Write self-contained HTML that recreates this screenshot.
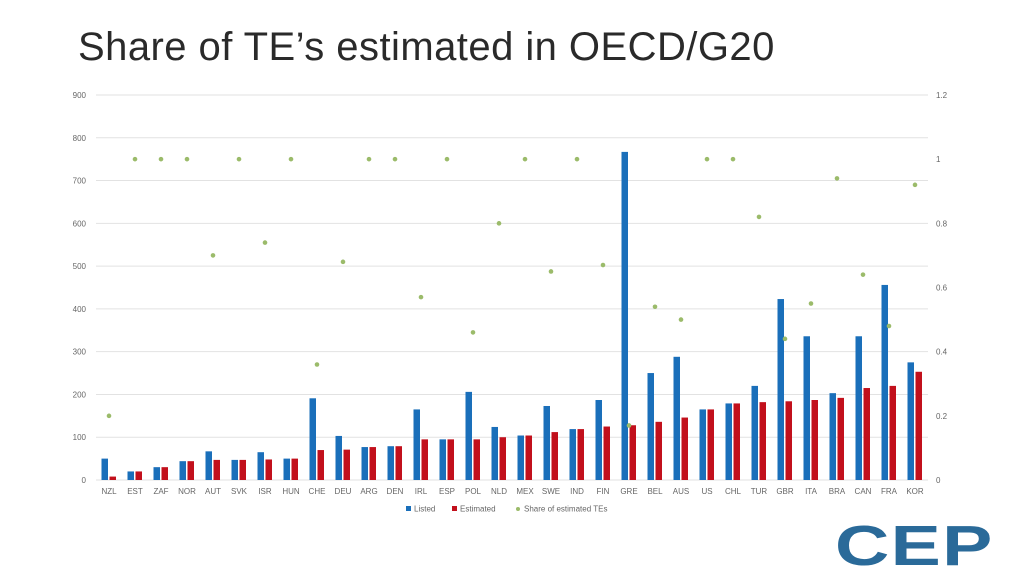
<!DOCTYPE html>
<html><head><meta charset="utf-8"><style>
body{margin:0;width:1024px;height:576px;background:#fff;overflow:hidden;font-family:"Liberation Sans",sans-serif;position:relative}
#title{position:absolute;left:78px;top:25px;font-size:40px;color:#2a2a2a;font-weight:normal;letter-spacing:0.45px}
#logo{position:absolute;left:835px;top:518px;font-size:57px;font-weight:bold;color:#2a6a99;transform:scaleX(1.32);transform-origin:left top;letter-spacing:1px;line-height:57px}
</style></head><body>
<div id="title">Share of TE’s estimated in OECD/G20</div>
<div id="logo">CEP</div>
<svg id="chart" width="1024" height="576" style="position:absolute;left:0;top:0"></svg>
<script>
const categories=["NZL","EST","ZAF","NOR","AUT","SVK","ISR","HUN","CHE","DEU","ARG","DEN","IRL","ESP","POL","NLD","MEX","SWE","IND","FIN","GRE","BEL","AUS","US","CHL","TUR","GBR","ITA","BRA","CAN","FRA","KOR"];
const listed=[50,20,30,44,67,47,65,50,191,103,77,79,165,95,206,124,104,173,119,187,767,250,288,165,179,220,423,336,203,336,456,275];
const estimated=[8,20,30,44,47,47,48,50,70,71,77,79,95,95,95,100,104,112,119,125,128,136,146,165,179,182,184,187,192,215,220,253];
const share=[0.2,1,1,1,0.7,1,0.74,1,0.36,0.68,1,1,0.57,1,0.46,0.8,1,0.65,1,0.67,0.17,0.54,0.5,1,1,0.82,0.44,0.55,0.94,0.64,0.48,0.92];
const leftTicks=[0,100,200,300,400,500,600,700,800,900];
const rightTicks=[0,0.2,0.4,0.6,0.8,1,1.2];
const X0=96,X1=928,Y0=480,Y1=95;
const svg=document.getElementById('chart');
const NS='http://www.w3.org/2000/svg';
const bw=(X1-X0)/categories.length;
const xc=i=>X0+bw*(i+0.5);
const yl=v=>Y0-(Y0-Y1)*v/900;
const yr=v=>Y0-(Y0-Y1)*v/1.2;
function mk(t,a,txt){const e=document.createElementNS(NS,t);for(const k in a)e.setAttribute(k,a[k]);if(txt!==undefined)e.textContent=txt;svg.appendChild(e);return e;}
leftTicks.forEach(v=>{
 const g=mk('line',{x1:X0,x2:X1,y1:yl(v),y2:yl(v),stroke:'#e2e2e2','stroke-width':1});
 
 
 const t=mk('text',{x:86,y:yl(v)+3,'text-anchor':'end','font-size':8,fill:'#666'},v);
 
 
});
rightTicks.forEach(v=>{
 const t=mk('text',{x:936,y:yr(v)+3,'font-size':8,fill:'#666'},String(v));
 
 
});
categories.forEach((c,i)=>{
 const b=mk('rect',{x:xc(i)-7.5,y:yl(listed[i]),width:6.5,height:Y0-yl(listed[i]),fill:'#1a6fba'});
 
 
 const r=mk('rect',{x:xc(i)+0.5,y:yl(estimated[i]),width:6.5,height:Y0-yl(estimated[i]),fill:'#c2101c'});
 
 
 const p=mk('circle',{cx:xc(i),cy:yr(share[i]),r:2.3,fill:'#9bbb6a'});
 
 
 const t=mk('text',{x:xc(i),y:494,'text-anchor':'middle','font-size':8,fill:'#666'},c);
 
 
});
const legend=[["Listed",'#1a6fba',406,'rect'],["Estimated",'#c2101c',452,'rect'],["Share of estimated TEs",'#9bbb6a',516,'circle']];
legend.forEach(l=>{
 let m;
 if(l[3]==='rect') m=mk('rect',{x:l[2],y:506,width:5,height:5,fill:l[1]});
 else m=mk('circle',{cx:l[2]+2,cy:509,r:2,fill:l[1]});
 
 
 const t=mk('text',{x:l[2]+8,y:511.5,'font-size':8,fill:'#666'},l[0]);
 
 
});
</script>
</body></html>
